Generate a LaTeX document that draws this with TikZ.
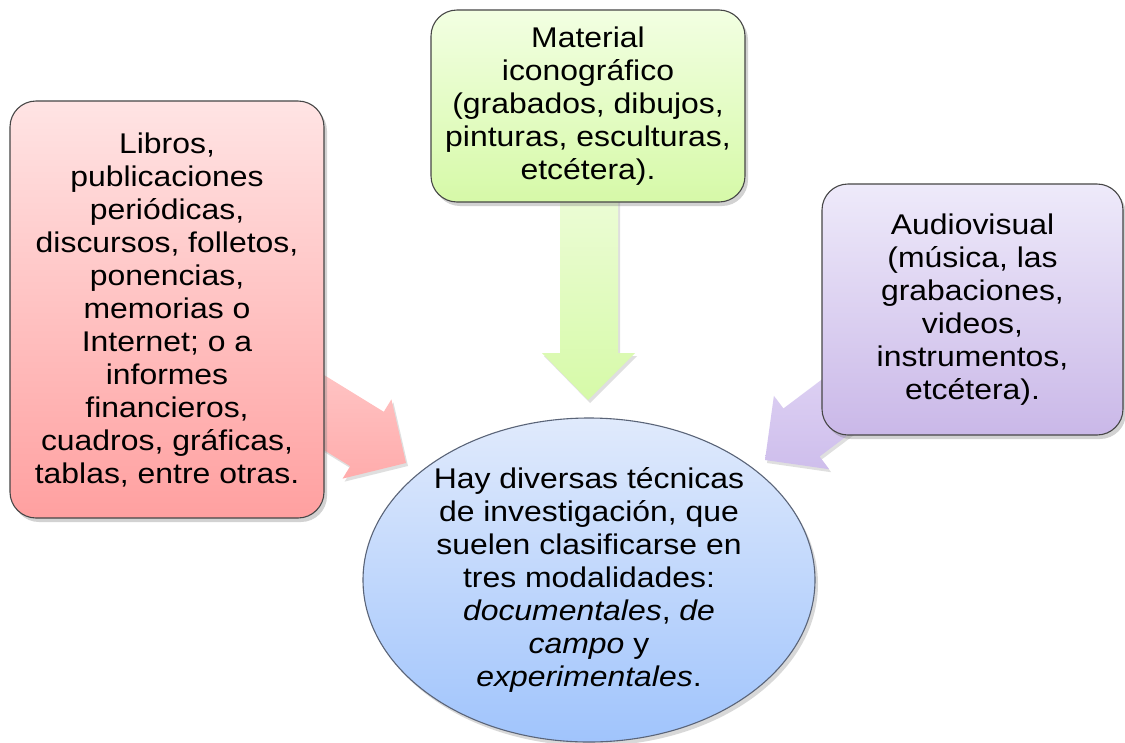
\documentclass[tikz,border=0pt]{standalone}
\usepackage{fontspec}
\setmainfont{Liberation Sans}[FakeStretch=1.12]
\usetikzlibrary{shadows,shapes.geometric}
\definecolor{pinkT}{RGB}{255,228,228}
\definecolor{pinkB}{RGB}{255,160,160}
\definecolor{greenT}{RGB}{242,255,226}
\definecolor{greenB}{RGB}{214,249,168}
\definecolor{purpT}{RGB}{238,234,250}
\definecolor{purpB}{RGB}{202,184,232}
\definecolor{blueT}{RGB}{224,234,252}
\definecolor{blueB}{RGB}{160,196,252}
\definecolor{pinkA}{RGB}{255,196,196}
\definecolor{pinkA2}{RGB}{255,172,172}
\definecolor{greenA}{RGB}{236,252,214}
\definecolor{greenA2}{RGB}{214,250,168}
\definecolor{purpA}{RGB}{224,212,244}
\definecolor{purpA2}{RGB}{206,190,236}
\definecolor{edgegray}{RGB}{70,70,70}
\definecolor{ellEdge}{RGB}{90,100,120}
\tikzset{
  txt/.style={align=center, font=\fontsize{28.5}{33}\selectfont, text=black, inner sep=0pt},
  card/.style={txt, rounded corners=26pt, draw=edgegray, line width=1.1pt,
    drop shadow={shadow xshift=3pt, shadow yshift=-4pt, opacity=0.35}},
  blockarrow/.style={drop shadow={shadow xshift=2pt, shadow yshift=-3pt, opacity=0.25}}
}
\begin{document}
\begin{tikzpicture}[x=1pt,y=-1pt]
\clip (0,0) rectangle (1125,742);
\fill[white] (0,0) rectangle (1125,742);

% block arrows (drawn first, boxes cover their tails)
\shade[blockarrow, top color=pinkA, bottom color=pinkA2]
  (315.7,369.9) -- (383.8,411.8) -- (391.4,399.4) -- (406,463)
  -- (342.6,478.6) -- (350.2,466.2) -- (282.1,424.3) -- cycle;
\shade[blockarrow, top color=greenA, bottom color=greenA2]
  (560,195) -- (618,195) -- (618,353) -- (635,353) -- (588,400)
  -- (542,353) -- (560,353) -- cycle;
\shade[blockarrow, top color=purpA, bottom color=purpA2]
  (891.5,402.3) -- (819.6,456.5) -- (829.1,469.2) -- (765,460)
  -- (773.9,395.8) -- (783.4,408.5) -- (855.3,354.3) -- cycle;

% boxes
\node[card, top color=pinkT, bottom color=pinkB, minimum width=314pt, minimum height=417pt]
  (libros) at (167,309.5) {Libros,\\publicaciones\\periódicas,\\discursos, folletos,\\ponencias,\\memorias o\\Internet; o a\\informes\\financieros,\\cuadros, gráficas,\\tablas, entre otras.};
\node[card, top color=greenT, bottom color=greenB, minimum width=314pt, minimum height=192pt]
  (icono) at (588,106) {Material\\iconográfico\\(grabados, dibujos,\\pinturas, esculturas,\\etcétera).};
\node[card, top color=purpT, bottom color=purpB, minimum width=301pt, minimum height=251pt]
  (audio) at (972.5,309.5) {Audiovisual\\(música, las\\grabaciones,\\videos,\\instrumentos,\\etcétera).};
\node[txt, ellipse, draw=ellEdge, line width=1.1pt, top color=blueT, bottom color=blueB,
  minimum width=452pt, minimum height=324pt,
  drop shadow={shadow xshift=3pt, shadow yshift=-4pt, opacity=0.3}]
  (centro) at (589,580) {Hay diversas técnicas\\de investigación, que\\suelen clasificarse en\\tres modalidades:\\\textit{documentales}, \textit{de}\\\textit{campo} y\\\textit{experimentales}.};
\end{tikzpicture}
\end{document}
